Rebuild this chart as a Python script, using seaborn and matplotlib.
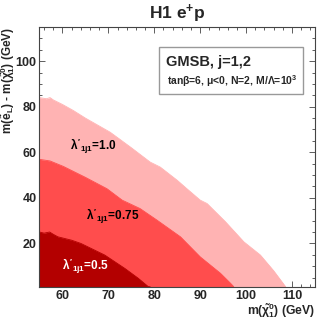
import numpy as np
import matplotlib
matplotlib.use("Agg")
import matplotlib.pyplot as plt
import seaborn as sns
from matplotlib.patches import Rectangle

# exclusion contours: upper edge of each excluded region
x_l10 = [55, 56.5, 57.3, 58, 60, 62.4, 65, 70.4, 75, 79.1, 81.3, 85, 87.1, 90, 91.5, 95.5, 99.5, 103.1, 106, 108.6]
y_l10 = [84, 83.5, 84, 83, 81, 78.3, 75, 68.8, 62, 55.7, 53.5, 47.7, 44, 39, 37.5, 29.5, 20.7, 14.9, 8, 1]

x_l075 = [55, 57.3, 60.2, 62, 65, 69.7, 73, 76.9, 80.6, 85.7, 90, 94.4, 96.6, 97.3]
y_l075 = [56.9, 56.2, 53.8, 52, 49, 44, 39, 35.3, 30.2, 22.9, 14.1, 6.9, 2.5, 1]

x_l05 = [55, 56, 57.2, 58, 59, 62, 64, 69.2, 73.6, 76.5, 78.7, 79.1]
y_l05 = [25, 24.5, 25, 24, 22.9, 21.4, 20, 14.9, 9, 4.7, 1, 1]

regions = [
    (x_l10, y_l10, "#ffb3b3", r"$\lambda'_{1j1}$=1.0", (61.6, 62.8), "black"),
    (x_l075, y_l075, "#ff4d4d", r"$\lambda'_{1j1}$=0.75", (65.1, 31.7), "black"),
    (x_l05, y_l05, "#b30000", r"$\lambda'_{1j1}$=0.5", (60.0, 9.8), "white"),
]

sns.set_theme(style="ticks")
plt.rcParams["font.family"] = ["Liberation Sans", "DejaVu Sans"]
plt.rcParams["font.weight"] = "bold"
plt.rcParams["mathtext.fontset"] = "custom"
plt.rcParams["mathtext.rm"] = "Liberation Sans:bold"
plt.rcParams["mathtext.it"] = "Liberation Sans:bold"
plt.rcParams["mathtext.bf"] = "Liberation Sans:bold"
plt.rcParams["mathtext.sf"] = "Liberation Sans:bold"

fig = plt.figure(figsize=(3.17, 3.19), dpi=100)
ax = fig.add_axes([0.1246, 0.1013, 0.8691, 0.8141])

for xs, ys, col, lab, pos, tcol in regions:
    ax.fill_between(xs, 0, ys, color=col, linewidth=0)
    sns.lineplot(x=xs, y=ys, color=col, lw=0.6, sort=False, estimator=None, ax=ax)
    ax.text(pos[0], pos[1], lab, color=tcol, fontsize=8.5, fontweight="bold",
            ha="left", va="center")

ax.set_xlim(55, 115)
ax.set_ylim(1, 115)
ax.set_xticks([60, 70, 80, 90, 100, 110])
ax.set_yticks([20, 40, 60, 80, 100])
ax.set_xticks(np.arange(56, 115, 2), minor=True)
ax.set_yticks(np.arange(5, 115, 5), minor=True)
ax.tick_params(which="both", direction="in", top=True, right=True,
               color="#444444", width=0.6, labelsize=9)
ax.tick_params(which="major", length=4, pad=2.5)
ax.tick_params(axis="y", which="major", pad=2)
ax.tick_params(which="minor", length=2)
for lbl in ax.get_xticklabels() + ax.get_yticklabels():
    lbl.set_fontweight("bold")
for sp in ax.spines.values():
    sp.set_color("#444444")
    sp.set_linewidth(0.8)

ax.set_xlabel(r"m($\tilde{\chi}_1^0$) (GeV)", fontsize=8.7, fontweight="bold")
ax.xaxis.label.set(ha="right", va="center")
ax.xaxis.set_label_coords(1.0, -0.092)
ax.set_ylabel(r"m($\tilde{e}_L$) - m($\tilde{\chi}_1^0$) (GeV)", fontsize=8.5,
              fontweight="bold")
ax.yaxis.label.set(rotation_mode="default", ha="center", va="top")
ax.yaxis.set_label_coords(-0.115, 1.0)
ax.set_title(r"H1 e$^{+}$p", fontsize=12.5, fontweight="bold", pad=6)

# legend-like info box
ax.add_patch(Rectangle((0.434, 0.742), 0.522, 0.181, transform=ax.transAxes,
                       facecolor="white", edgecolor="#999999", lw=1, zorder=5))
ax.text(0.459, 0.865, "GMSB, j=1,2", transform=ax.transAxes, fontsize=10.5,
        fontweight="bold", ha="left", va="center", zorder=6)
ax.text(0.462, 0.79, r"tan$\beta$=6, $\mu$<0, N=2, M/$\Lambda$=10$^{3}$",
        transform=ax.transAxes, fontsize=7.5, fontweight="bold",
        ha="left", va="center", zorder=6)

fig.savefig("out.png", dpi=100)
